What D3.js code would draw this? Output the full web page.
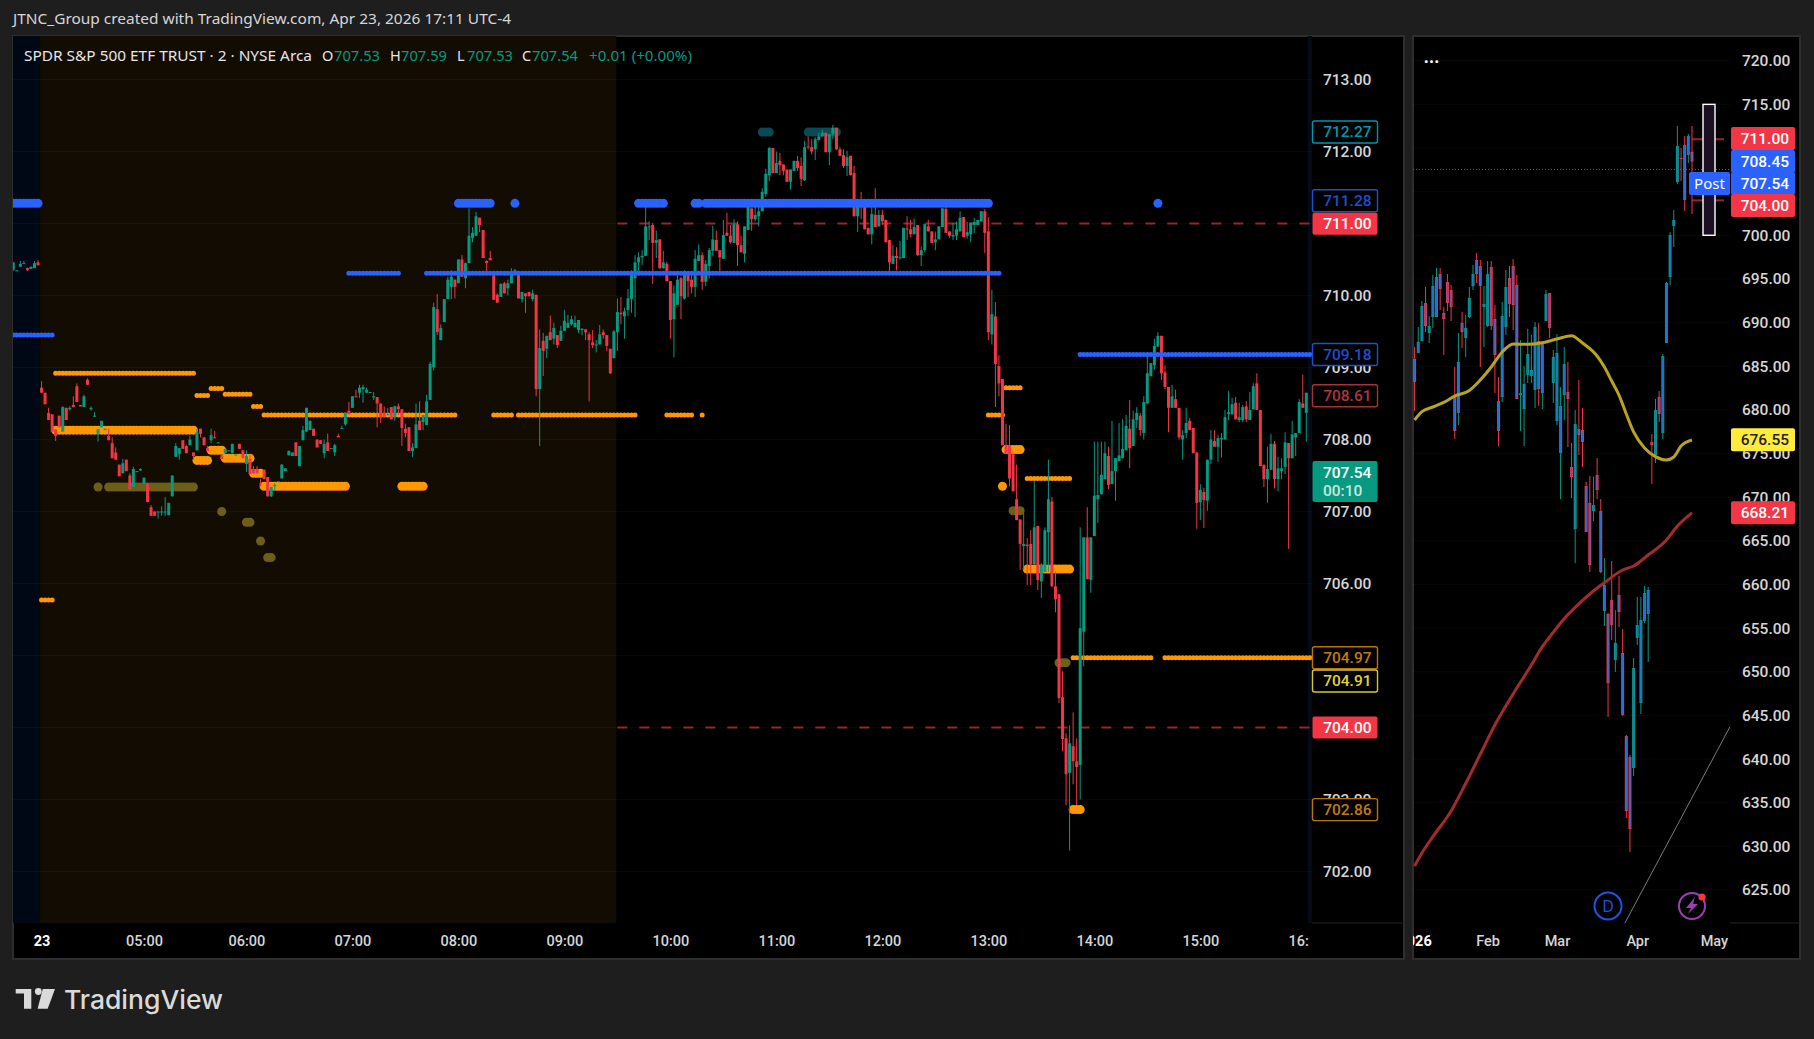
<!DOCTYPE html>
<html>
<head>
<meta charset="utf-8">
<title>SPY 2m / daily</title>
<script src="https://cdnjs.cloudflare.com/ajax/libs/d3/7.8.5/d3.min.js"></script>
<style>
html, body { margin: 0; padding: 0; background: #1e1e1e; overflow: hidden; }
text { font-family: "Noto Sans", Roboto, sans-serif; }
</style>
</head>
<body>
<div id="chart"></div>
<script>
// 2 minute bars, [open, high, low, close]. Bar number 0 is the last one before 04:00
var nightBars = [
[710.35,710.46,710.35,710.46],[710.34,710.35,710.34,710.35],[710.40,710.48,710.40,710.44],[710.44,710.48,710.44,710.45],
[710.38,710.39,710.34,710.35],[710.37,710.40,710.37,710.40],[710.38,710.48,710.38,710.45],[710.46,710.49,710.42,710.42]];

var preBars = [
[708.72,708.81,708.65,708.65],[708.65,708.65,708.49,708.49],[708.37,708.44,708.27,708.27],[708.35,708.35,708.11,708.11],
[708.14,708.14,707.98,708.05],[708.33,708.33,708.17,708.17],[708.11,708.46,708.11,708.45],[708.44,708.44,708.27,708.27],
[708.42,708.46,708.40,708.44],[708.48,708.60,708.45,708.45],[708.74,708.78,708.52,708.52],[708.48,708.48,708.46,708.46],
[708.45,708.62,708.45,708.60],[708.83,708.85,708.76,708.76],[708.42,708.46,708.40,708.44],[708.32,708.38,708.32,708.33],
[708.08,708.15,707.97,708.14],[708.17,708.26,708.17,708.26],[708.13,708.15,708.13,708.15],[708.05,708.15,707.99,707.99],
[707.95,708.03,707.74,707.74],[707.82,707.89,707.72,707.72],[707.65,707.65,707.49,707.49],[707.53,707.73,707.53,707.67],
[707.72,707.72,707.56,707.56],[707.50,707.53,707.31,707.31],[707.34,707.62,707.34,707.59],[707.55,707.56,707.55,707.56],
[707.57,707.60,707.57,707.59],[707.38,707.47,707.38,707.47],[707.39,707.39,707.13,707.13],[707.06,707.09,706.94,706.94],
[707.00,707.00,706.94,706.94],[706.99,707.00,706.90,707.00],[706.99,707.07,706.94,707.00],[706.99,707.20,706.94,707.00],
[706.95,707.12,706.95,707.12],[707.21,707.50,707.21,707.50],[707.76,707.95,707.76,707.91],[707.80,707.88,707.72,707.88],
[707.99,707.99,707.87,707.87],[707.91,707.92,707.81,707.81],[707.92,708.05,707.92,708.00],[707.82,707.82,707.72,707.77],
[707.85,708.15,707.85,708.10],[708.15,708.15,708.03,708.08],[708.03,708.03,707.92,707.92],[707.88,707.91,707.84,707.84],
[707.99,708.15,707.95,708.06],[708.03,708.12,708.02,708.02],[707.95,707.96,707.95,707.96],[707.78,707.78,707.73,707.73],
[707.81,707.87,707.81,707.87],[707.84,707.85,707.84,707.85],[707.81,707.94,707.81,707.94],[707.78,707.79,707.78,707.79],
[707.94,707.94,707.87,707.87],[707.85,707.85,707.74,707.74],[707.66,707.85,707.55,707.77],[707.73,707.80,707.52,707.52],
[707.59,707.63,707.53,707.53],[707.59,707.63,707.53,707.53],[707.39,707.45,707.35,707.38],[707.58,707.58,707.45,707.45],
[707.48,707.48,707.21,707.21],[707.21,707.34,707.20,707.34],[707.35,707.39,707.29,707.37],[707.41,707.42,707.41,707.42],
[707.46,707.66,707.46,707.65],[707.56,707.60,707.56,707.60],[707.78,707.85,707.78,707.84],[707.77,707.82,707.77,707.82],
[707.96,707.96,707.77,707.77],[707.63,707.91,707.63,707.91],[707.99,708.19,707.99,708.13],[708.11,708.44,708.11,708.44],
[708.13,708.26,708.13,708.26],[708.15,708.15,708.05,708.05],[708.00,708.00,707.89,707.89],[707.99,707.99,707.94,707.94],
[707.81,708.00,707.74,707.94],[707.96,708.08,707.84,707.84],[707.87,707.88,707.87,707.88],[707.82,707.94,707.77,707.92],
[708.05,708.08,708.03,708.03],[708.15,708.19,708.15,708.16],[708.21,708.37,708.19,708.37],[708.40,708.52,708.35,708.35],
[708.44,708.60,708.44,708.60],[708.60,708.69,708.59,708.59],[708.65,708.76,708.58,708.72],[708.70,708.76,708.51,708.73],
[708.65,708.72,708.65,708.69],[708.65,708.66,708.65,708.66],[708.59,708.66,708.55,708.60],[708.59,708.59,708.17,708.50],
[708.50,708.50,708.23,708.31],[708.37,708.46,708.31,708.31],[708.34,708.44,708.34,708.35],[708.45,708.45,708.28,708.28],
[708.31,708.47,708.26,708.46],[708.46,708.50,708.34,708.42],[708.42,708.42,707.91,708.16],[708.15,708.22,708.03,708.09],
[708.17,708.17,707.84,707.84],[707.84,707.95,707.76,707.89],[707.88,708.50,707.88,708.21],[708.26,708.53,708.13,708.13],
[708.24,708.34,708.13,708.34],[708.20,708.62,708.20,708.53],[708.55,709.08,708.55,709.05],[709.00,709.90,708.96,709.84],
[709.81,710.02,709.45,709.49],[709.38,709.60,709.38,709.55],[709.63,709.95,709.63,709.95],[709.95,710.26,709.95,710.22],
[710.12,710.35,709.95,710.26],[710.22,710.22,709.96,710.12],[710.17,710.50,710.17,710.50],[710.50,710.56,710.26,710.26],
[710.24,710.46,710.10,710.45],[710.45,711.21,710.45,710.83],[710.80,710.95,710.74,710.87],[710.83,711.16,710.83,711.10],
[711.08,711.08,710.88,710.98],[710.91,710.91,710.52,710.52],[710.48,710.49,710.31,710.45],[710.52,710.62,710.49,710.49],
[710.33,710.33,709.94,709.94],[710.01,710.03,709.90,709.90],[709.98,710.17,709.98,710.16],[710.17,710.19,710.03,710.03],
[710.10,710.22,710.00,710.17],[710.17,710.38,710.17,710.33],[710.31,710.37,710.31,710.35],[710.33,710.33,709.96,709.96],
[709.95,710.05,709.90,710.05],[710.03,710.03,709.76,709.99],[710.05,710.05,709.99,709.99],[709.95,710.08,709.92,710.03],
[710.01,710.01,708.60,708.70],[708.70,709.53,707.91,709.27],[709.37,709.48,708.88,709.23],[709.26,709.44,709.13,709.44],
[709.49,709.72,709.38,709.38],[709.40,709.62,709.32,709.55],[709.45,709.45,709.27,709.31],[709.37,709.58,709.37,709.51],
[709.51,709.80,709.51,709.65],[709.55,709.73,709.55,709.62],[709.60,709.72,709.58,709.67],[709.56,709.72,709.56,709.62],
[709.52,709.66,709.48,709.66],[709.52,709.54,709.45,709.54],[709.53,709.53,709.38,709.49],[709.46,709.49,708.53,709.38],
[709.35,709.52,709.27,709.31],[709.31,709.38,709.21,709.32],[709.32,709.59,709.32,709.46],[709.49,709.53,709.40,709.45],
[709.45,709.45,709.23,709.30],[709.26,709.26,708.91,708.92],[709.13,709.52,709.13,709.50],[709.49,709.96,709.23,709.77]];

var sessionBars = [
[709.76,709.98,709.60,709.74],[709.71,709.83,709.40,709.78],[709.80,710.09,709.71,709.96],[709.95,710.35,709.76,710.30],
[710.24,710.56,709.70,710.46],[710.46,710.60,710.28,710.53],[710.53,710.63,710.42,710.55],[710.55,711.30,710.55,710.96],
[710.95,711.03,710.77,710.96],[710.98,711.01,710.16,710.73],[710.73,710.90,710.52,710.77],[710.78,710.78,710.37,710.38],
[710.38,710.62,710.37,710.46],[710.44,710.47,710.20,710.20],[710.20,710.20,709.40,709.66],[709.67,710.14,709.14,710.03],
[709.87,710.33,709.87,710.22],[710.24,710.26,709.67,709.99],[709.96,710.35,709.94,710.29],[710.29,710.34,709.98,710.20],
[710.22,710.34,710.03,710.12],[710.12,710.63,709.98,710.51],[710.48,710.71,710.48,710.56],[710.56,710.60,710.08,710.19],
[710.19,710.49,710.13,710.44],[710.41,710.66,710.24,710.63],[710.62,710.97,710.55,710.78],[710.77,710.90,710.62,710.62],
[710.63,710.63,710.30,710.53],[710.51,711.05,710.51,710.84],[710.87,711.15,710.83,710.83],[710.83,710.98,710.72,710.74],
[710.73,711.06,710.73,710.99],[710.99,711.03,710.41,710.70],[710.70,710.83,710.60,710.60],[710.58,710.96,710.46,710.96],
[710.91,711.24,710.91,711.23],[711.21,711.21,710.90,711.06],[711.06,711.23,711.03,711.12],[711.10,711.26,710.96,711.17],
[711.17,711.49,711.17,711.44],[711.41,711.76,711.37,711.69],[711.67,712.06,711.59,712.05],[712.05,712.05,711.70,711.70],
[711.70,712.00,711.70,711.84],[711.87,711.98,711.67,711.81],[711.82,711.82,711.67,711.73],[711.75,711.75,711.58,711.58],
[711.58,711.75,711.47,711.75],[711.73,711.87,711.73,711.87],[711.87,711.94,711.73,711.77],[711.80,711.92,711.52,711.62],
[711.60,712.15,711.59,712.06],[712.07,712.21,712.03,712.06],[712.06,712.17,711.96,712.00],[712.03,712.20,711.88,712.17],
[712.16,712.26,712.15,712.21],[712.21,712.30,712.21,712.26],[712.26,712.26,711.99,711.99],[711.99,712.24,711.81,712.24],
[712.24,712.37,712.17,712.33],[712.33,712.33,712.02,712.03],[712.03,712.06,711.94,711.94],[711.95,712.03,711.77,711.80],
[711.80,712.01,711.66,711.92],[711.94,711.94,711.67,711.67],[711.70,711.80,711.10,711.10],[711.10,711.33,710.88,711.28],
[711.30,711.44,711.06,711.24],[711.26,711.26,710.92,710.92],[710.94,710.94,710.85,710.85],[710.85,711.23,710.71,711.13],
[711.12,711.49,710.95,710.95],[710.96,711.19,710.96,711.12],[711.12,711.19,710.98,711.03],[711.05,711.05,710.74,710.74],
[710.77,710.77,710.31,710.46],[710.44,710.70,710.44,710.55],[710.55,710.67,710.35,710.52],[710.52,710.76,710.50,710.53],
[710.52,710.94,710.52,710.94],[710.93,711.10,710.77,710.92],[710.92,711.05,710.81,710.85],[710.85,711.07,710.85,710.95],
[710.98,710.98,710.55,710.56],[710.56,710.68,710.41,710.63],[710.63,711.00,710.60,710.99],[710.96,711.05,710.89,710.89],
[710.89,710.89,710.73,710.73],[710.74,710.89,710.63,710.78],[710.78,710.96,710.78,710.96],[710.95,711.21,710.95,711.21],
[711.20,711.28,710.87,710.87],[710.89,710.89,710.80,710.83],[710.82,711.01,710.77,710.84],[710.83,711.03,710.77,710.92],
[710.89,711.17,710.89,711.08],[711.09,711.09,710.81,710.81],[710.83,711.02,710.79,710.88],[710.85,711.01,710.74,711.01],
[710.98,711.08,710.87,711.02],[710.98,711.05,710.98,711.05],[711.03,711.17,711.03,711.17],[711.17,711.20,710.59,710.87],
[710.89,711.09,709.38,709.49],[709.46,710.08,709.32,709.74],[709.71,709.91,708.45,709.05],[709.02,709.17,708.60,708.78],
[708.84,708.84,707.92,707.92],[707.92,708.22,707.80,707.80],[707.92,708.20,707.35,707.46],[707.80,707.80,707.28,707.28],
[707.17,707.65,706.88,706.88],[706.89,706.89,706.19,706.55],[706.52,706.98,706.19,706.55],[706.54,706.63,705.98,706.52],
[706.55,706.74,705.98,706.27],[706.27,707.42,706.27,706.78],[706.80,706.80,705.91,706.05],[706.03,706.28,705.80,706.26],
[706.16,706.78,706.16,706.74],[706.71,707.72,706.16,707.17],[707.14,707.20,705.96,705.96],[705.96,706.17,705.60,705.78],
[705.85,705.85,704.34,704.41],[704.42,704.78,703.67,703.84],[703.85,703.92,702.92,703.35],[703.37,704.03,702.29,703.78],
[703.74,704.21,703.21,703.53],[703.53,703.85,702.92,703.45],[703.48,706.78,703.00,705.38],[705.33,706.64,704.85,706.64],
[706.64,707.06,706.06,706.06],[706.05,706.64,705.87,706.64],[706.66,707.97,706.66,707.22],[707.17,707.97,706.84,707.23],
[707.24,707.97,707.24,707.51],[707.45,707.97,707.45,707.81],[707.77,707.90,707.31,707.37],[707.38,708.26,707.38,707.56],
[707.56,707.74,707.15,707.74],[707.70,708.23,707.70,707.78],[707.74,708.28,707.74,707.87],[707.85,708.34,707.85,708.19],
[708.15,708.55,707.60,707.88],[707.91,708.40,707.91,708.28],[708.27,708.45,708.16,708.37],[708.33,708.37,708.05,708.13],
[708.09,708.60,708.00,708.52],[708.50,709.16,708.50,708.92],[708.88,709.06,708.88,709.06],[709.03,709.40,708.97,709.30],
[709.29,709.49,709.29,709.44],[709.44,709.44,708.83,708.92],[708.93,709.03,708.70,708.73],[708.73,708.73,708.10,708.44],
[708.44,708.76,708.44,708.60],[708.56,708.69,708.44,708.44],[708.44,708.44,708.00,708.03],[708.00,708.13,707.72,708.06],
[708.09,708.44,708.02,708.23],[708.26,708.30,708.13,708.13],[708.16,708.16,707.81,707.81],[707.82,707.82,706.76,707.12],
[707.13,707.38,706.88,707.30],[707.27,707.33,706.77,707.16],[707.15,707.72,707.01,707.72],[707.72,708.13,707.66,708.00],
[707.98,708.13,707.90,707.90],[707.90,708.06,707.69,708.02],[708.00,708.09,707.75,708.02],[708.00,708.41,708.00,708.31],
[708.35,708.67,708.27,708.38],[708.35,708.58,708.35,708.49],[708.51,708.59,708.28,708.28],[708.27,708.51,708.24,708.31],
[708.27,708.48,708.24,708.45],[708.46,708.53,708.24,708.28],[708.27,708.66,708.27,708.41],[708.42,708.78,708.42,708.74],
[708.78,708.92,708.41,708.41],[708.41,708.41,707.63,707.63],[707.65,707.65,707.34,707.45],[707.45,707.90,707.12,707.59],
[707.58,708.08,707.58,707.94],[707.94,707.98,707.32,707.45],[707.45,707.76,707.28,707.60],[707.56,707.74,707.45,707.60],
[707.62,708.10,707.52,707.96],[707.95,707.95,706.48,707.74],[707.74,708.26,707.74,708.07],[708.03,708.09,707.77,708.09],
[708.09,708.56,708.09,708.52],[708.50,708.90,708.44,708.44],[708.37,708.65,707.97,708.65]];

// daily bars, oldest first, last one is Apr 23
var dailyBars = [
[685.83,687.20,679.87,683.19],[686.52,689.49,686.52,687.78],[687.89,692.47,687.89,691.90],[692.24,694.08,688.92,689.61],
[688.81,690.75,687.66,689.61],[690.64,695.45,689.38,694.19],[690.64,696.25,690.64,695.22],[695.56,696.25,691.44,693.85],
[691.10,691.79,686.29,690.41],[694.65,695.56,691.33,692.24],[693.73,694.30,690.18,691.79],[681.59,684.91,676.66,677.58],
[679.65,688.81,678.27,685.48],[689.95,691.21,687.09,688.92],[688.23,690.87,686.06,689.38],[690.64,694.08,690.52,692.82],
[694.19,696.60,693.73,695.56],[697.17,697.97,694.53,695.56],[696.48,697.17,684.91,694.19],[691.79,694.19,687.20,692.13],
[689.61,697.05,689.50,695.56],[696.37,697.05,689.15,689.61],[690.41,692.00,681.93,686.29],[681.00,683.77,675.86,677.58],
[681.47,692.36,680.90,690.75],[689.49,696.02,688.58,694.08],[695.11,696.48,690.64,692.13],[696.48,697.28,689.15,692.01],
[694.30,695.45,681.25,681.25],[681.70,688.00,677.58,681.90],[680.10,685.00,675.86,682.97],[684.00,689.27,683.08,686.40],
[683.88,688.58,683.08,684.57],[682.27,690.07,680.22,689.49],[687.89,689.95,680.45,682.39],[681.93,687.78,680.10,687.78],
[690.18,693.73,690.18,693.27],[693.39,693.39,688.23,689.38],[683.08,686.86,680.79,686.06],[678.72,688.69,678.27,686.52],
[675.06,682.62,669.79,680.44],[681.70,687.20,678.84,685.25],[682.05,685.48,675.75,681.25],[673.46,676.21,669.90,672.31],
[666.35,679.98,662.46,678.38],[677.81,683.42,674.83,677.12],[677.69,680.22,673.46,676.32],[671.28,671.74,666.00,666.01],
[669.33,672.43,661.43,662.23],[668.42,672.37,667.27,669.10],[672.54,674.49,669.79,670.82],[668.42,669.79,661.30,661.43],
[656.96,663.03,655.25,659.94],[656.62,656.74,644.82,648.71],[658.22,662.69,653.64,655.36],[651.35,657.08,649.97,653.30],
[658.80,660.97,655.13,656.85],[652.15,654.90,644.95,645.05],[642.64,642.76,633.25,634.05],[640.24,640.47,629.35,631.99],
[638.98,651.58,638.06,650.43],[653.87,658.57,653.07,655.36],[646.42,658.57,645.16,655.93],[655.82,659.83,655.59,659.02],
[656.62,659.72,651.12,659.37],[676.32,677.23,671.51,675.98],[674.83,681.25,673.91,679.98],[681.47,682.16,678.61,679.53],
[677.35,686.40,676.66,686.17],[687.66,694.65,687.66,694.53],[695.22,700.38,694.30,700.03],[701.06,702.89,698.66,701.75],
[706.10,712.52,705.87,710.23],[708.85,710.00,706.22,708.73],[710.34,711.37,702.78,704.04],[709.20,711.60,708.28,711.37],
[709.57,712.52,702.44,708.45]];

// indicator plots on the 2 minute pane, [first bar, last bar, price]
var blueThickRuns = [[-7,0,711.28],[119,128,711.28],[135,135,711.28],[170,177,711.28],[186,187,711.28],[189,269,711.28],[317,317,711.28]];
var blueThinRuns = [[-7,4,709.45],[88,102,710.31],[110,272,710.31],[295,360,709.18]];
var orangeThinRuns = [[1,4,705.77],[5,44,708.92],[45,48,708.61],[49,52,708.71],[53,60,708.63],[61,63,708.46],[64,118,708.34],
  [129,134,708.34],[136,169,708.34],[178,185,708.34],[188,188,708.34],[269,273,708.34],[274,278,708.72],[280,292,707.46],
  [293,315,704.97],[319,360,704.97]];
var orangeThickRuns = [[5,44,708.13],[45,48,707.71],[49,52,707.85],[53,60,707.74],[61,63,707.53],[64,87,707.35],[103,109,707.35],
  [273,273,707.35],[274,278,707.86],[280,292,706.20],[293,295,702.86]];
var oliveRuns = [[17,17,707.34],[20,44,707.34],[52,52,707.00],[59,60,706.85],[63,63,706.59],[65,66,706.36],[276,278,707.01],[289,291,704.90]];
var tealRuns = [[205,207,712.27],[218,226,712.27]];

// moving averages on the daily pane, read at these bars back from the last one
var maYellowBack = [76,74,71,68,65,61,58,55,52,49,45,41,37,33,30,26,24,22,20,18,16,13,10,7,5,3,0];
var maYellow = [678.84,679.79,680.33,680.85,681.59,682.22,683.42,684.91,686.63,687.55,687.51,687.69,688.12,688.50,687.66,686.17,684.91,683.31,681.70,679.53,677.47,675.63,674.64,674.26,674.60,675.86,676.55];
var maRedBack = [76,74,71,66,62,57,54,49,44,41,39,36,31,27,24,19,16,12,7,4,0];
var maRed = [627.75,629.24,631.11,634.05,637.20,641.40,643.90,647.46,650.78,652.87,653.98,655.59,657.77,659.25,660.20,661.66,662.12,663.37,665.09,666.70,668.21];
var trendBack = [18.4,-10.4];
var trendPrice = [621.2,643.7];

var levelPrices = [711,704];
var boxPrices = [715,700];

// axes. Grid has every level, the axes skip the labels that sit fully under a tag
var gridPricesL = [713,712,711,710,709,708,707,706,705,704,703,702];
var tickPricesL = [713,712,710,709,708,707,706,703,702];
var gridPricesR = d3.range(720,620,-5);
var tickPricesR = [720,715,700,695,690,685,680,675,670,665,660,655,650,645,640,635,630,625];
var timeBars = [1,30,59,89,119,149,179,209,239,269,299,329,359];
var timeLabels = ["23","05:00","06:00","07:00","08:00","09:00","10:00","11:00","12:00","13:00","14:00","15:00","16:00"];
var dayBack = [76,56,37,15,-6];
var dayLabels = ["2026","Feb","Mar","Apr","May"];

var headerText = "JTNC_Group created with TradingView.com, Apr 23, 2026 17:11 UTC-4";
var legendTitle = "SPDR S&P 500 ETF TRUST · 2 · NYSE Arca";
var legendKeys = ["O","H","L","C"];
var legendValues = ["707.53","707.59","707.53","707.54"];
var legendChange = "+0.01 (+0.00%)";

var width = 1814, height = 1039;
var paneL = {left: 13, right: 1404, top: 36, bottom: 959, plotRight: 1312, axisTop: 923};
var paneR = {left: 1413, right: 1800, top: 36, bottom: 959, plotRight: 1730, axisTop: 923};

var up = "#089981", down = "#f23645", blue = "#2962ff", orange = "#ff9800",
    olive = "#6d5e18", teal = "#0a4a55", dash = "#8f2830", tickColor = "#d6d6d6";

var svg = d3.select("#chart").append("svg")
    .attr("width", width)
    .attr("height", height)
    .style("display", "block");

var defs = svg.append("defs");
defs.append("clipPath").attr("id", "clipL").append("rect")
    .attr("x", paneL.left).attr("y", paneL.top).attr("width", paneL.plotRight - paneL.left).attr("height", paneL.axisTop - paneL.top);
defs.append("clipPath").attr("id", "clipR").append("rect")
    .attr("x", paneR.left).attr("y", paneR.top).attr("width", paneR.plotRight - paneR.left).attr("height", paneR.axisTop - paneR.top);
defs.append("clipPath").attr("id", "clipAxisL").append("rect")
    .attr("x", paneL.left).attr("y", paneL.axisTop).attr("width", 1309 - paneL.left).attr("height", 36);
defs.append("clipPath").attr("id", "clipAxisR").append("rect")
    .attr("x", paneR.left).attr("y", paneR.axisTop).attr("width", paneR.plotRight - paneR.left).attr("height", 36);

// scales
var xL = d3.scaleLinear().domain([0,359]).range([38,1306.3]);
var yL = d3.scaleLinear().domain([713,702]).range([79.5,871.5]);
var xR = d3.scaleLinear().domain([0,76]).range([1692,1414.6]);
var yR = d3.scaleLinear().domain([720,625]).range([60.7,890]);

// panes
[paneL, paneR].forEach(function(p) {
    svg.append("rect")
        .attr("x", p.left).attr("y", p.top)
        .attr("width", p.right - p.left).attr("height", p.bottom - p.top)
        .attr("fill", "#000")
        .attr("stroke", "#2e2e2e")
        .attr("stroke-width", 2);
    svg.append("line")
        .attr("x1", p.plotRight).attr("x2", p.right)
        .attr("y1", p.axisTop).attr("y2", p.axisTop)
        .attr("stroke", "#222");
});

var left = svg.append("g").attr("clip-path", "url(#clipL)");
var right = svg.append("g").attr("clip-path", "url(#clipR)");

// session backgrounds
[[-8,0.6,"#000816"],[0.6,163.7,"#130c02"],[359.4,361.2,"#050a18"]].forEach(function(b) {
    left.append("rect")
        .attr("x", Math.max(xL(b[0]), paneL.left)).attr("y", paneL.top)
        .attr("width", xL(b[1]) - Math.max(xL(b[0]), paneL.left))
        .attr("height", paneL.axisTop - paneL.top)
        .attr("fill", b[2]);
});

// grid
left.selectAll(".grid").data(gridPricesL).enter().append("line")
    .attr("x1", paneL.left).attr("x2", paneL.plotRight)
    .attr("y1", function(d) { return yL(d); }).attr("y2", function(d) { return yL(d); })
    .attr("stroke", "#fff").attr("stroke-opacity", 0.03);
right.selectAll(".grid").data(gridPricesR).enter().append("line")
    .attr("x1", paneR.left).attr("x2", paneR.plotRight)
    .attr("y1", function(d) { return yR(d); }).attr("y2", function(d) { return yR(d); })
    .attr("stroke", "#fff").attr("stroke-opacity", 0.03);

// dashed levels from 09:30 on
left.selectAll(".level").data(levelPrices).enter().append("line")
    .attr("x1", xL(164)).attr("x2", paneL.plotRight)
    .attr("y1", function(d) { return yL(d); }).attr("y2", function(d) { return yL(d); })
    .attr("stroke", dash).attr("stroke-width", 2)
    .attr("stroke-dasharray", "10,12");

// one circle per bar, like the plotshape dots
function plotRuns(runs, r, color) {
    var dots = [];
    runs.forEach(function(run) {
        d3.range(run[0], run[1] + 1).forEach(function(i) { dots.push([i, run[2]]); });
    });
    left.append("g").selectAll("circle").data(dots).enter().append("circle")
        .attr("cx", function(d) { return xL(d[0]); })
        .attr("cy", function(d) { return yL(d[1]); })
        .attr("r", r)
        .attr("fill", color);
}

plotRuns(tealRuns, 4.5, teal);
plotRuns(oliveRuns, 4.5, olive);
plotRuns(orangeThinRuns, 2.5, orange);
plotRuns(orangeThickRuns, 4.5, orange);

// candles
function drawCandles(g, bars, xf, yf, inner) {
    var c = g.append("g").selectAll("g").data(bars).enter().append("g");
    c.append("line")
        .attr("x1", function(d) { return xf(d); }).attr("x2", function(d) { return xf(d); })
        .attr("y1", function(d) { return yf(d.h); }).attr("y2", function(d) { return yf(d.l); })
        .attr("stroke", function(d) { return d.c < d.o ? down : up; })
        .attr("stroke-width", 1);
    c.append("rect")
        .attr("x", function(d) { return xf(d) - 1.5; })
        .attr("width", 3)
        .attr("y", function(d) { return yf(Math.max(d.o, d.c)); })
        .attr("height", function(d) { return Math.max(1, Math.abs(yf(d.o) - yf(d.c))); })
        .attr("fill", function(d) { return d.c < d.o ? down : up; });
    if (inner) {
        c.append("rect")
            .attr("x", function(d) { return xf(d) - 0.7; })
            .attr("width", 1.4)
            .attr("y", function(d) { return yf(Math.max(d.o, d.c)) + 0.8; })
            .attr("height", function(d) { return Math.max(0, Math.abs(yf(d.o) - yf(d.c)) - 1.6); })
            .attr("fill", "#1e6fd9");
    }
}

function toBars(list, first) {
    return list.map(function(b, n) {
        return {i: first + n, o: b[0], h: b[1], l: b[2], c: b[3]};
    });
}

var intraday = toBars(nightBars, -7).concat(toBars(preBars, 1), toBars(sessionBars, 165));
drawCandles(left, intraday, function(d) { return xL(d.i); }, yL, false);

plotRuns(blueThinRuns, 2.5, blue);
plotRuns(blueThickRuns, 4.5, blue);

// daily pane
right.selectAll(".stub").data(levelPrices).enter().append("line")
    .attr("x1", xR(0)).attr("x2", 1724)
    .attr("y1", function(d) { return yR(d); }).attr("y2", function(d) { return yR(d); })
    .attr("stroke", dash).attr("stroke-width", 2);

right.append("line")
    .attr("x1", paneR.left).attr("x2", paneR.plotRight)
    .attr("y1", yR(707.54)).attr("y2", yR(707.54))
    .attr("stroke", blue).attr("stroke-dasharray", "1,2");

var daily = dailyBars.map(function(b, n) {
    return {back: dailyBars.length - 1 - n, o: b[0], h: b[1], l: b[2], c: b[3]};
});
drawCandles(right, daily, function(d) { return xR(d.back); }, yR, true);

var maLine = d3.line()
    .x(function(d) { return xR(d[0]); })
    .y(function(d) { return yR(d[1]); })
    .curve(d3.curveMonotoneX);

right.append("path").attr("d", maLine(d3.zip(maRedBack, maRed)))
    .attr("fill", "none").attr("stroke", "#a52a30").attr("stroke-width", 3);
right.append("path").attr("d", maLine(d3.zip(maYellowBack, maYellow)))
    .attr("fill", "none").attr("stroke", "#b8a322").attr("stroke-width", 3);

svg.append("line")
    .attr("x1", xR(trendBack[0])).attr("y1", yR(trendPrice[0]))
    .attr("x2", xR(trendBack[1])).attr("y2", yR(trendPrice[1]))
    .attr("stroke", "#787b80").attr("stroke-width", 1);

// position box
svg.append("rect")
    .attr("x", 1703).attr("width", 12)
    .attr("y", yR(boxPrices[0])).attr("height", yR(boxPrices[1]) - yR(boxPrices[0]))
    .attr("fill", "#1c0f24").attr("stroke", "#fff").attr("stroke-width", 1.4);

// axes
function styleAxis(g) {
    g.select(".domain").remove();
    g.selectAll(".tick line").remove();
    g.selectAll("text")
        .attr("fill", tickColor)
        .style("font-family", "Roboto, sans-serif")
        .style("font-size", "15.5px")
        .style("font-weight", "500");
}

svg.append("g")
    .attr("transform", "translate(1323,0)")
    .call(d3.axisRight(yL).tickValues(tickPricesL).tickFormat(d3.format(".2f")).tickSize(0).tickPadding(0))
    .call(styleAxis);

svg.append("g")
    .attr("transform", "translate(1742,0)")
    .call(d3.axisRight(yR).tickValues(tickPricesR).tickFormat(d3.format(".2f")).tickSize(0).tickPadding(0))
    .call(styleAxis);

var timeAxis = svg.append("g")
    .attr("clip-path", "url(#clipAxisL)")
    .append("g")
    .attr("transform", "translate(0,936)")
    .call(d3.axisBottom(xL).tickValues(timeBars).tickFormat(function(d, i) { return timeLabels[i]; }).tickSize(0).tickPadding(0))
    .call(styleAxis);
timeAxis.selectAll("text").style("font-size", "14.5px").attr("dy", "0.71em")
    .filter(function(d, i) { return i == 0; }).style("font-weight", "700").attr("fill", "#fff");

var dayAxis = svg.append("g")
    .attr("clip-path", "url(#clipAxisR)")
    .append("g")
    .attr("transform", "translate(0,936)")
    .call(d3.axisBottom(xR).tickValues(dayBack).tickFormat(function(d, i) { return dayLabels[i]; }).tickSize(0).tickPadding(0))
    .call(styleAxis);
dayAxis.selectAll("text").style("font-size", "14.5px").attr("dy", "0.71em")
    .filter(function(d, i) { return i == 0; }).style("font-weight", "700").attr("fill", "#fff");

// price tags
function tag(x, cy, w, h, text, fill, stroke, color) {
    svg.append("rect")
        .attr("x", x).attr("y", cy - h / 2)
        .attr("width", w).attr("height", h)
        .attr("rx", 2)
        .attr("fill", fill).attr("stroke", stroke).attr("stroke-width", stroke == "none" ? 0 : 1.4);
    svg.append("text")
        .attr("x", x + w - 6).attr("y", cy)
        .attr("dy", "0.33em")
        .attr("text-anchor", "end")
        .attr("fill", color)
        .style("font-family", "Roboto, sans-serif")
        .style("font-size", "15.5px")
        .style("font-weight", "500")
        .text(text);
}

var tagX = 1312.5, tagW = 65, tagH = 22;
tag(tagX, yL(712.27), tagW, tagH, "712.27", "#000", "#0097a7", "#0097a7");
tag(tagX, 200.7, tagW, tagH, "711.28", "#000", "#1e4fd0", "#1e4fd0");
tag(tagX, 223.7, tagW, tagH, "711.00", down, "none", "#fff");
tag(tagX, yL(709.18), tagW, tagH, "709.18", "#000", "#1e4fd0", "#1e4fd0");
tag(tagX, 395.7, tagW, tagH, "708.61", "#000", "#a8323a", "#b0343c");
tag(tagX, 657.7, tagW, tagH, "704.97", "#000", "#b8740a", "#c07c10");
tag(tagX, 681, tagW, tagH, "704.91", "#000", "#d4c634", "#e0d438");
tag(tagX, yL(704), tagW, tagH, "704.00", down, "none", "#fff");
tag(tagX, yL(702.86), tagW, tagH, "702.86", "#000", "#b8740a", "#c07c10");

// last price with countdown
svg.append("rect")
    .attr("x", tagX).attr("y", 461).attr("width", tagW).attr("height", 41)
    .attr("rx", 2).attr("fill", up);
svg.append("text")
    .attr("x", 1323).attr("y", 478)
    .attr("fill", "#fff")
    .style("font-family", "Roboto, sans-serif").style("font-size", "15.5px").style("font-weight", "500")
    .text("707.54");
svg.append("text")
    .attr("x", 1323).attr("y", 496)
    .attr("fill", "#c8e6df")
    .style("font-family", "Roboto, sans-serif").style("font-size", "15.5px").style("font-weight", "500")
    .text("00:10");

var tagXR = 1731, tagWR = 64;
tag(tagXR, 138.5, tagWR, 23, "711.00", down, "none", "#fff");
tag(tagXR, 161.5, tagWR, 23, "708.45", blue, "none", "#fff");
tag(tagXR, 183.5, tagWR, 23, "707.54", blue, "none", "#fff");
tag(tagXR, 205.5, tagWR, 23, "704.00", down, "none", "#fff");
tag(tagXR, 439.7, tagWR, 23, "676.55", "#ffeb3b", "none", "#222");
tag(tagXR, 512.7, tagWR, 23, "668.21", down, "none", "#fff");

// Post flag
svg.append("rect")
    .attr("x", 1689).attr("y", 172).attr("width", 41).attr("height", 23)
    .attr("rx", 2).attr("fill", blue);
svg.append("text")
    .attr("x", 1709.5).attr("y", 188.5)
    .attr("text-anchor", "middle").attr("fill", "#fff")
    .style("font-size", "15px")
    .text("Post");

// events at the bottom of the daily pane
svg.append("circle").attr("cx", 1608).attr("cy", 906).attr("r", 13.5)
    .attr("fill", "#000").attr("stroke", "#1e53e5").attr("stroke-width", 2);
svg.append("text").attr("x", 1608).attr("y", 912)
    .attr("text-anchor", "middle").attr("fill", "#1e53e5")
    .style("font-size", "16px").text("D");
svg.append("circle").attr("cx", 1692).attr("cy", 906).attr("r", 13)
    .attr("fill", "#000").attr("stroke", "#9c3fb0").attr("stroke-width", 2);
svg.append("path")
    .attr("transform", "translate(1692,906)")
    .attr("d", "M3,-9 L-6,2 L-1,2 L-4,8 L6,-2 L1,-2 Z")
    .attr("fill", "#9c3fb0");
svg.append("circle").attr("cx", 1702).attr("cy", 897).attr("r", 3.6).attr("fill", down);

// header and legend
svg.append("text")
    .attr("x", 13).attr("y", 24)
    .attr("fill", "#d6d6d6")
    .attr("textLength", 498).attr("lengthAdjust", "spacingAndGlyphs")
    .style("font-size", "14.5px")
    .text(headerText);

svg.append("text")
    .attr("x", 24).attr("y", 61)
    .attr("fill", "#e6e6e6")
    .attr("textLength", 288).attr("lengthAdjust", "spacingAndGlyphs")
    .style("font-size", "14.5px")
    .text(legendTitle);

var keyX = [322,390,457,522], valueX = [334,401,467,532];
legendKeys.forEach(function(k, i) {
    svg.append("text").attr("x", keyX[i]).attr("y", 61)
        .attr("fill", "#e6e6e6").style("font-size", "14.5px").text(k);
    svg.append("text").attr("x", valueX[i]).attr("y", 61)
        .attr("fill", up)
        .attr("textLength", 46).attr("lengthAdjust", "spacingAndGlyphs")
        .style("font-size", "14.5px").text(legendValues[i]);
});
svg.append("text").attr("x", 589).attr("y", 61)
    .attr("fill", up)
    .attr("textLength", 103).attr("lengthAdjust", "spacingAndGlyphs")
    .style("font-size", "14.5px").text(legendChange);

svg.append("text").attr("x", 1424).attr("y", 63)
    .attr("fill", "#fff").attr("textLength", 15)
    .style("font-size", "16px").style("font-weight", "700").text("...");

// TradingView logo
var logo = svg.append("g").attr("fill", "#dadada");
logo.append("path").attr("d", "M15.7,989 H31.3 V1008.7 H24 V993.5 H15.7 Z");
logo.append("circle").attr("cx", 38.3).attr("cy", 991.5).attr("r", 3.4);
logo.append("path").attr("d", "M42.8,989 H55 L47.7,1008.7 H37.6 Z");
logo.append("text")
    .attr("x", 64).attr("y", 1008.5)
    .attr("textLength", 159).attr("lengthAdjust", "spacingAndGlyphs")
    .style("font-family", "Inter, sans-serif")
    .style("font-size", "26px")
    .style("font-weight", "500")
    .text("TradingView");
</script>
</body>
</html>
